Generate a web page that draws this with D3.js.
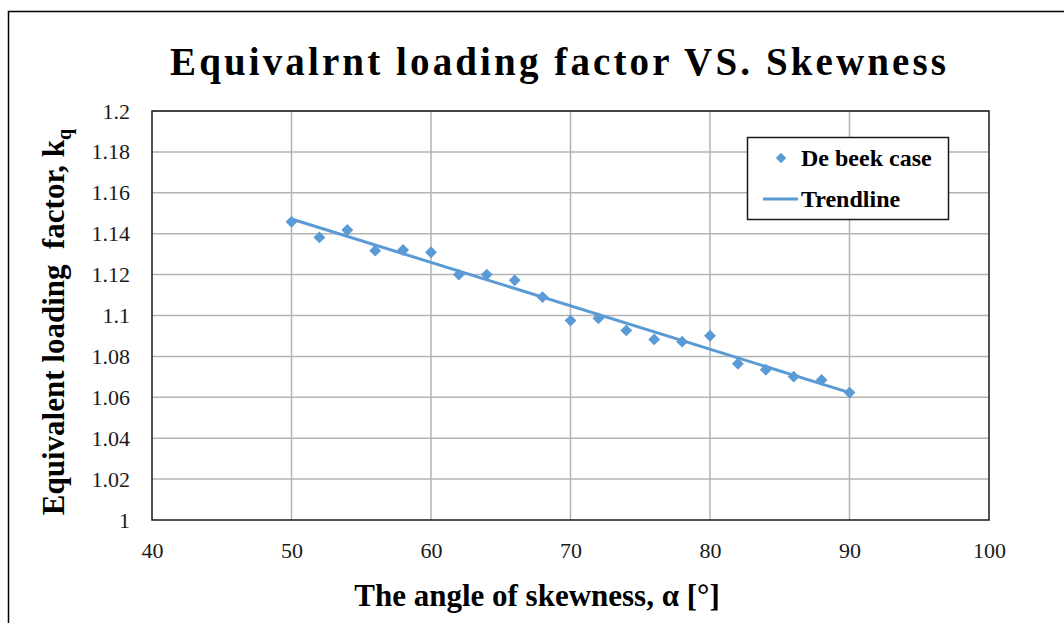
<!DOCTYPE html>
<html>
<head>
<meta charset="utf-8">
<script src="https://cdn.jsdelivr.net/npm/d3@7"></script>
<style>
  body { margin: 0; background: #fff; }
  svg text { font-family: "Liberation Serif", "Times New Roman", serif; }
</style>
</head>
<body>
<svg id="chart" width="1064" height="623"></svg>
<script>
// skew angles (deg) and measured kq values
var angles = [50, 52, 54, 56, 58, 60, 62, 64, 66, 68, 70, 72, 74, 76, 78, 80, 82, 84, 86, 88, 90];
var kq = [1.1458, 1.1382, 1.1418, 1.1317, 1.1320, 1.1309, 1.1200, 1.1200, 1.1172, 1.1090, 1.0975,
          1.0986, 1.0927, 1.0883, 1.0872, 1.0901, 1.0764, 1.0735, 1.0701, 1.0685, 1.0623];
// trendline end points
var trendX = [50, 90];
var trendY = [1.1472, 1.0623];
var xTicks = [40, 50, 60, 70, 80, 90, 100];
var yTicks = [1, 1.02, 1.04, 1.06, 1.08, 1.1, 1.12, 1.14, 1.16, 1.18, 1.2];

var blue = "#5b9bd5";
var svg = d3.select("#chart");

// outer frame (only left + top visible in the picture)
svg.append("rect")
    .attr("x", 8.5).attr("y", 11.5)
    .attr("width", 1200).attr("height", 800)
    .attr("fill", "none").attr("stroke", "#000").attr("stroke-width", 1.5);

var plotL = 152, plotR = 989, plotT = 111, plotB = 520;

var x = d3.scaleLinear().domain([40, 100]).range([plotL, plotR]);
var y = d3.scaleLinear().domain([1, 1.2]).range([plotB, plotT]);

// gridlines
var grid = svg.append("g");
grid.selectAll("line.h")
    .data(yTicks.slice(1))
    .enter().append("line")
    .attr("x1", plotL).attr("x2", plotR)
    .attr("y1", function (d) { return y(d); })
    .attr("y2", function (d) { return y(d); })
    .attr("stroke", "#b3b3b3").attr("stroke-width", 1.5);
grid.selectAll("line.v")
    .data(xTicks.slice(1, -1))
    .enter().append("line")
    .attr("y1", plotT).attr("y2", plotB)
    .attr("x1", function (d) { return x(d); })
    .attr("x2", function (d) { return x(d); })
    .attr("stroke", "#b3b3b3").attr("stroke-width", 1.5);

// plot border
svg.append("rect")
    .attr("x", plotL).attr("y", plotT)
    .attr("width", plotR - plotL).attr("height", plotB - plotT)
    .attr("fill", "none").attr("stroke", "#1a1a1a").attr("stroke-width", 1.5);

// axes (labels only, no tick marks)
var xAxis = svg.append("g")
    .attr("transform", "translate(0," + plotB + ")")
    .call(d3.axisBottom(x).tickValues(xTicks).tickSize(0).tickPadding(22).tickFormat(d3.format("d")));
var yAxis = svg.append("g")
    .attr("transform", "translate(" + plotL + ",0)")
    .call(d3.axisLeft(y).tickValues(yTicks).tickSize(0).tickPadding(22).tickFormat(function (d) { return String(+d.toFixed(2)); }));
[xAxis, yAxis].forEach(function (a) {
    a.select(".domain").remove();
    a.selectAll("text")
        .style("font-family", "Liberation Serif, Times New Roman, serif")
        .style("font-size", "22px")
        .attr("fill", "#1a1a1a");
});

// trendline
var line = d3.line()
    .x(function (d) { return x(d[0]); })
    .y(function (d) { return y(d[1]); });
svg.append("path")
    .datum(d3.zip(trendX, trendY))
    .attr("d", line)
    .attr("fill", "none").attr("stroke", blue).attr("stroke-width", 3);

// data markers
var diamond = d3.symbol().type(d3.symbolDiamond2).size(90);
svg.append("g").selectAll("path")
    .data(d3.zip(angles, kq))
    .enter().append("path")
    .attr("d", diamond)
    .attr("transform", function (d) { return "translate(" + x(d[0]) + "," + y(d[1]) + ")"; })
    .attr("fill", blue);

// title
svg.append("text")
    .attr("x", 558).attr("y", 75)
    .attr("text-anchor", "middle")
    .attr("font-size", 39).attr("font-weight", "bold")
    .attr("textLength", 776).attr("lengthAdjust", "spacing")
    .text("Equivalrnt loading factor VS. Skewness");

// x label
svg.append("text")
    .attr("x", 537).attr("y", 606)
    .attr("text-anchor", "middle")
    .attr("font-size", 31).attr("font-weight", "bold")
    .text("The angle of skewness, α [°]");

// y label
var yl = svg.append("text")
    .attr("transform", "translate(64,322) rotate(-90)")
    .attr("text-anchor", "middle")
    .attr("font-size", 31).attr("font-weight", "bold");
yl.append("tspan").text("Equivalent loading\u00a0 factor, k");
yl.append("tspan").attr("font-size", 20).attr("dy", 7).text("q");

// legend
var lg = svg.append("g");
lg.append("rect")
    .attr("x", 747.5).attr("y", 137.5).attr("width", 201).attr("height", 82)
    .attr("fill", "#fff").attr("stroke", "#1a1a1a").attr("stroke-width", 1.5);
lg.append("path")
    .attr("d", d3.symbol().type(d3.symbolDiamond2).size(70))
    .attr("transform", "translate(781,158)")
    .attr("fill", blue);
lg.append("text").attr("x", 801).attr("y", 166)
    .attr("font-size", 24).attr("font-weight", "bold").text("De beek case");
lg.append("line")
    .attr("x1", 763).attr("x2", 798).attr("y1", 199).attr("y2", 199)
    .attr("stroke", blue).attr("stroke-width", 3);
lg.append("text").attr("x", 801).attr("y", 207)
    .attr("font-size", 24).attr("font-weight", "bold").text("Trendline");
</script>
</body>
</html>
